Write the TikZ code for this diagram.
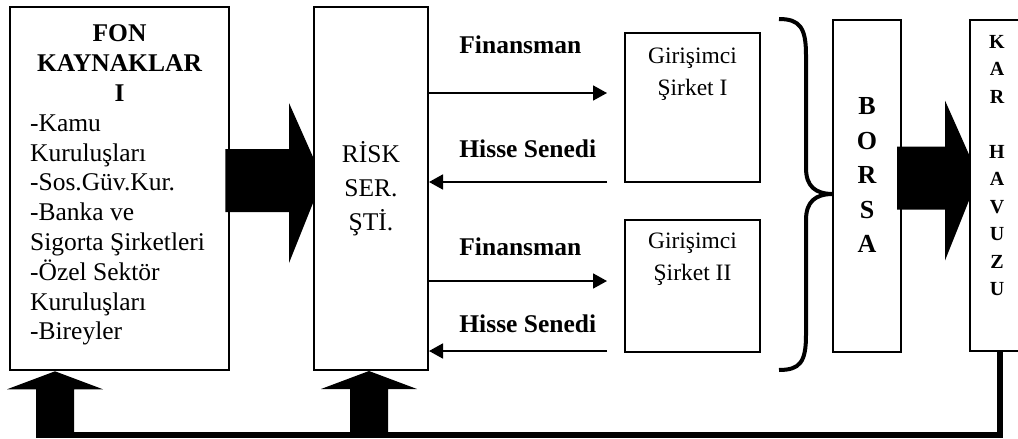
\documentclass[tikz,border=0pt]{standalone}
\usepackage{fontspec}
\setmainfont{Liberation Serif}
\usetikzlibrary{arrows.meta,calc,positioning}

\begin{document}
\begin{tikzpicture}[x=0.5pt,y=-0.5pt,
    box/.style={draw=black,line width=1pt,inner sep=0pt},
    flow/.style={line width=0.9pt,-{Triangle[length=7pt,width=7.5pt]}},
    lbl/.style={font=\fontsize{12.75}{15}\selectfont\bfseries,anchor=west,inner sep=0pt},
    bigarrow/.style={fill=black,to path={let \p1=(\tikztostart.east), \p2=(\tikztotarget.west) in
        (\x1-2.5pt,\y1+19.75pt) -- (\x2-12pt,\y1+19.75pt) -- (\x2-12pt,\y1+42.75pt) --
        (\x2,\y1+15.75pt) -- (\x2,\y1-7.25pt) -- (\x2-12pt,\y1-37.25pt) --
        (\x2-12pt,\y1-11.75pt) -- (\x1-2.5pt,\y1-11.75pt) -- cycle}},
    uparrow/.style={fill=black,to path={let \p1=(\tikztostart), \p2=(\tikztotarget) in
        (\x1-9.5pt,\y1) -- (\x1-9.5pt,\y2-9pt) -- (\x1-24pt,\y2-9pt) -- (\x1,\y2) --
        (\x1+24pt,\y2-9pt) -- (\x1+9.5pt,\y2-9pt) -- (\x1+9.5pt,\y1) -- cycle}},
    retline/.style={line width=3pt}]
  \useasboundingbox (0,0) rectangle (1018,439);
  \clip (0,0) rectangle (1018,439);

  % boxes
  \node[box,line width=1.3pt,minimum width=109.5pt,minimum height=181.5pt] (fon) at (119.5,188.5) {};
  \node[below=9.5pt of fon.north,align=center,inner sep=0pt,
        font=\fontsize{12.75}{15}\selectfont\bfseries] (fontitle) {FON\\KAYNAKLAR\\I};
  \node[below right=54.25pt and 10.5pt of fon.north west,anchor=north west,align=left,inner sep=0pt,
        font=\fontsize{12.75}{14.9}\selectfont] (fonlist)
        {-Kamu\\Kuruluşları\\-Sos.Güv.Kur.\\-Banka ve\\Sigorta Şirketleri\\-Özel Sektör\\Kuruluşları\\-Bireyler};

  \node[box,minimum width=57pt,minimum height=181.5pt,align=center,
        font=\fontsize{12.75}{17}\selectfont] (risk) at (371,188.5) {RİSK\\SER.\\ŞTİ.};

  \node[box,minimum width=67.5pt,minimum height=74.5pt] (gir1) at (692.5,107.5) {};
  \node[below=8pt of gir1.north,align=center,inner sep=0pt,
        font=\fontsize{11.75}{16}\selectfont] (gir1txt) {Girişimci\\Şirket I};
  \node[box,minimum width=67.5pt,minimum height=66pt] (gir2) at (692.5,286) {};
  \node[below=7pt of gir2.north,align=center,inner sep=0pt,
        font=\fontsize{11.75}{16}\selectfont] (gir2txt) {Girişimci\\Şirket II};

  \node[box,minimum width=34pt,minimum height=166pt] (borsa) at (867,186) {};
  \node[below=39pt of borsa.north,align=center,inner sep=0pt,
        font=\fontsize{13}{17.3}\selectfont\bfseries] (borsatxt) {B\\O\\R\\S\\A};

  \node[box,minimum width=27pt,minimum height=165.5pt] (kar) at (997,185.5) {};
  \node[below=8pt of kar.north,align=center,inner sep=0pt,
        font=\fontsize{10}{13.75}\selectfont\bfseries] (kartxt) {K\\A\\R\\[13.75pt]H\\A\\V\\U\\Z\\U};

  % flows between risk and the firms
  \coordinate (f1) at (607,93);
  \coordinate (h1) at (607,182);
  \coordinate (f2) at (607,281);
  \coordinate (h2) at (607,351);
  \draw[flow] (risk.east |- f1) -- (f1);
  \draw[flow] (h1) -- (risk.east |- h1);
  \draw[flow] (risk.east |- f2) -- (f2);
  \draw[flow] (h2) -- (risk.east |- h2);
  \node[lbl] (fin1) at (459,45) {Finansman};
  \node[lbl] (his1) at (459,148.5) {Hisse Senedi};
  \node[lbl] (fin2) at (459,247) {Finansman};
  \node[lbl] (his2) at (459,323.5) {Hisse Senedi};

  % brace
  \draw[line width=2pt] (779,19) .. controls (800,19) and (806,28) .. (806,55) -- (806,168)
    .. controls (806,186) and (815,194) .. (833,194)
    .. controls (815,194) and (806,202) .. (806,220) -- (806,335)
    .. controls (806,362) and (800,370) .. (779,370);

  % block arrows
  \path[bigarrow] (fon) to (risk);
  \path[bigarrow] (borsa) to (kar);

  % return line
  \coordinate (fonfoot) at (55,435);
  \coordinate (riskfoot) at (369,435);
  \coordinate (back) at (1000,435);
  \path[uparrow] (fonfoot) to (fon.south -| fonfoot);
  \path[uparrow] (riskfoot) to (risk.south -| riskfoot);
  \draw[retline] (kar.south -| back) |- ([xshift=-9.5pt]fonfoot);
\end{tikzpicture}
\end{document}
